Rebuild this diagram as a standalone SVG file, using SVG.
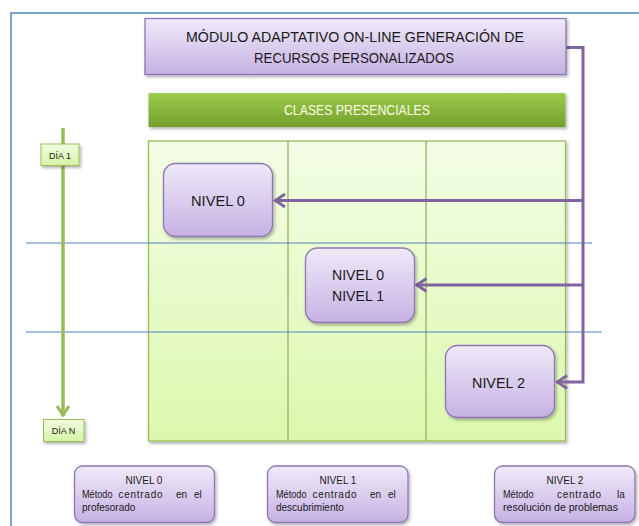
<svg xmlns="http://www.w3.org/2000/svg" width="639" height="526" viewBox="0 0 639 526">
  <defs>
    <linearGradient id="purpleFill" x1="0" y1="0" x2="0" y2="1">
      <stop offset="0" stop-color="#efeafa"/>
      <stop offset="1" stop-color="#c6b1e2"/>
    </linearGradient>
    <linearGradient id="greenBar" x1="0" y1="0" x2="0" y2="1">
      <stop offset="0" stop-color="#9dcb4c"/>
      <stop offset="1" stop-color="#72a02b"/>
    </linearGradient>
    <linearGradient id="gridFill" x1="0" y1="0" x2="0" y2="1">
      <stop offset="0" stop-color="#f3fde6"/>
      <stop offset="1" stop-color="#dcf8ad"/>
    </linearGradient>
    <linearGradient id="tagFill" x1="0" y1="0" x2="0" y2="1">
      <stop offset="0" stop-color="#f1fce0"/>
      <stop offset="1" stop-color="#d6f3a6"/>
    </linearGradient>
    <filter id="shadow" x="-10%" y="-10%" width="125%" height="130%">
      <feDropShadow dx="1.5" dy="2" stdDeviation="1.5" flood-color="#000" flood-opacity="0.3"/>
    </filter>
    <!-- open chevron pointing along the path direction; tip sits on the path end -->
    <marker id="chevPurple" viewBox="0 0 14 16" refX="12" refY="8" markerWidth="14" markerHeight="16" markerUnits="userSpaceOnUse" orient="auto">
      <path d="M2,1.5 L11.5,8 L2,14.5" fill="none" stroke="#8064a2" stroke-width="3"/>
    </marker>
    <marker id="chevGreen" viewBox="0 0 14 12" refX="7" refY="11" markerWidth="14" markerHeight="12" markerUnits="userSpaceOnUse">
      <path d="M1,1 L7,10 L13,1" fill="none" stroke="#9bbb59" stroke-width="3"/>
    </marker>
    <style>
      .lbl { font-family: "Liberation Sans", Arial, sans-serif; fill: #1a1a1a; }
      .big { font-size: 15px; }
      .sm { font-size: 10px; }
      .tag { font-size: 9px; }
      .pbox { fill: url(#purpleFill); stroke: #8e76b3; stroke-width: 1.3; }
      .blue { stroke: #4f81bd; stroke-width: 1; fill: none; }
      .conn { stroke: #8064a2; stroke-width: 3; fill: none; }
    </style>
  </defs>

  <rect width="639" height="526" fill="#ffffff"/>

  <!-- outer frame -->
  <path d="M11,530 L11,13 L645,13" fill="none" stroke="#4f81bd" stroke-width="1.5"/>

  <!-- classroom grid -->
  <g id="grid">
    <rect x="148.5" y="141" width="417" height="300" fill="url(#gridFill)" stroke="#9bbb59" stroke-width="1.3" filter="url(#shadow)"/>
    <line x1="288" y1="141" x2="288" y2="441" stroke="#8faa55" stroke-width="1.2"/>
    <line x1="426" y1="141" x2="426" y2="441" stroke="#8faa55" stroke-width="1.2"/>
  </g>

  <!-- day separators -->
  <g id="separators">
    <line class="blue" x1="26" y1="243" x2="592" y2="243"/>
    <line class="blue" x1="26" y1="332" x2="602" y2="332"/>
  </g>

  <!-- connectors -->
  <g id="connectors">
    <line x1="63" y1="128" x2="63" y2="416" stroke="#9bbb59" stroke-width="3.5" marker-end="url(#chevGreen)"/>
    <path class="conn" d="M566,47.5 L583,47.5 L583,382 L557,382" marker-end="url(#chevPurple)"/>
    <line class="conn" x1="583" y1="200.5" x2="275" y2="200.5" marker-end="url(#chevPurple)"/>
    <line class="conn" x1="583" y1="285" x2="416.5" y2="285" marker-end="url(#chevPurple)"/>
  </g>

  <g id="module">
    <rect x="145" y="18.5" width="421" height="56" fill="url(#purpleFill)" stroke="#8e76b3" stroke-width="1.3" filter="url(#shadow)"/>
    <text class="lbl big" x="355" y="42" text-anchor="middle" textLength="338" lengthAdjust="spacingAndGlyphs">MÓDULO ADAPTATIVO  ON-LINE GENERACIÓN DE</text>
    <text class="lbl big" x="354" y="63" text-anchor="middle" textLength="200" lengthAdjust="spacingAndGlyphs">RECURSOS PERSONALIZADOS</text>
  </g>

  <g id="clases">
    <rect x="148.5" y="93" width="417" height="34" fill="url(#greenBar)" filter="url(#shadow)"/>
    <text class="lbl" x="357" y="115" text-anchor="middle" font-size="14" style="fill:#fbfbe6" textLength="146" lengthAdjust="spacingAndGlyphs">CLASES PRESENCIALES</text>
  </g>

  <g id="dia1">
    <rect x="41" y="144" width="38" height="21.5" fill="url(#tagFill)" stroke="#9bbb59" stroke-width="1" filter="url(#shadow)"/>
    <text class="lbl tag" x="60" y="158.5" text-anchor="middle">DÍA 1</text>
  </g>
  <g id="diaN">
    <rect x="43.5" y="419.5" width="40.5" height="22" fill="url(#tagFill)" stroke="#9bbb59" stroke-width="1" filter="url(#shadow)"/>
    <text class="lbl tag" x="63.5" y="434" text-anchor="middle">DÍA N</text>
  </g>

  <g id="nivel0">
    <rect class="pbox" x="163.5" y="163.5" width="109" height="73" rx="12" filter="url(#shadow)"/>
    <text class="lbl big" x="218" y="205.5" text-anchor="middle" textLength="54" lengthAdjust="spacingAndGlyphs">NIVEL 0</text>
  </g>

  <g id="nivel01">
    <rect class="pbox" x="305.5" y="248" width="109" height="74.5" rx="12" filter="url(#shadow)"/>
    <text class="lbl big" x="358" y="279.5" text-anchor="middle" textLength="52" lengthAdjust="spacingAndGlyphs">NIVEL 0</text>
    <text class="lbl big" x="358" y="301" text-anchor="middle" textLength="52" lengthAdjust="spacingAndGlyphs">NIVEL 1</text>
  </g>

  <g id="nivel2">
    <rect class="pbox" x="445.5" y="345.5" width="109" height="72" rx="12" filter="url(#shadow)"/>
    <text class="lbl big" x="498.5" y="387.5" text-anchor="middle" textLength="53" lengthAdjust="spacingAndGlyphs">NIVEL 2</text>
  </g>

  <!-- legend: justified first lines, one text element per word -->
  <g id="legend0">
    <rect class="pbox" x="74.5" y="466" width="140" height="56.5" rx="8" filter="url(#shadow)"/>
    <text class="lbl sm" x="144" y="484" text-anchor="middle">NIVEL 0</text>
    <text class="lbl sm" x="82" y="497.5" textLength="30.5" lengthAdjust="spacingAndGlyphs">Método</text>
    <text class="lbl sm" x="118.5" y="497.5" textLength="44" lengthAdjust="spacing">centrado</text>
    <text class="lbl sm" x="176" y="497.5">en</text>
    <text class="lbl sm" x="194" y="497.5">el</text>
    <text class="lbl sm" x="82" y="511">profesorado</text>
  </g>
  <g id="legend1">
    <rect class="pbox" x="267.5" y="466" width="140.5" height="56.5" rx="8" filter="url(#shadow)"/>
    <text class="lbl sm" x="338" y="484" text-anchor="middle">NIVEL 1</text>
    <text class="lbl sm" x="276" y="497.5" textLength="30.5" lengthAdjust="spacingAndGlyphs">Método</text>
    <text class="lbl sm" x="312.5" y="497.5" textLength="44" lengthAdjust="spacing">centrado</text>
    <text class="lbl sm" x="370" y="497.5">en</text>
    <text class="lbl sm" x="388" y="497.5">el</text>
    <text class="lbl sm" x="276" y="511">descubrimiento</text>
  </g>
  <g id="legend2">
    <rect class="pbox" x="494.5" y="466" width="140.5" height="56.5" rx="8" filter="url(#shadow)"/>
    <text class="lbl sm" x="565" y="484" text-anchor="middle">NIVEL 2</text>
    <text class="lbl sm" x="503" y="497.5" textLength="30.5" lengthAdjust="spacingAndGlyphs">Método</text>
    <text class="lbl sm" x="557" y="497.5" textLength="44" lengthAdjust="spacing">centrado</text>
    <text class="lbl sm" x="617" y="497.5">la</text>
    <text class="lbl sm" x="503" y="511" textLength="115" lengthAdjust="spacingAndGlyphs">resolución de problemas</text>
  </g>
</svg>
